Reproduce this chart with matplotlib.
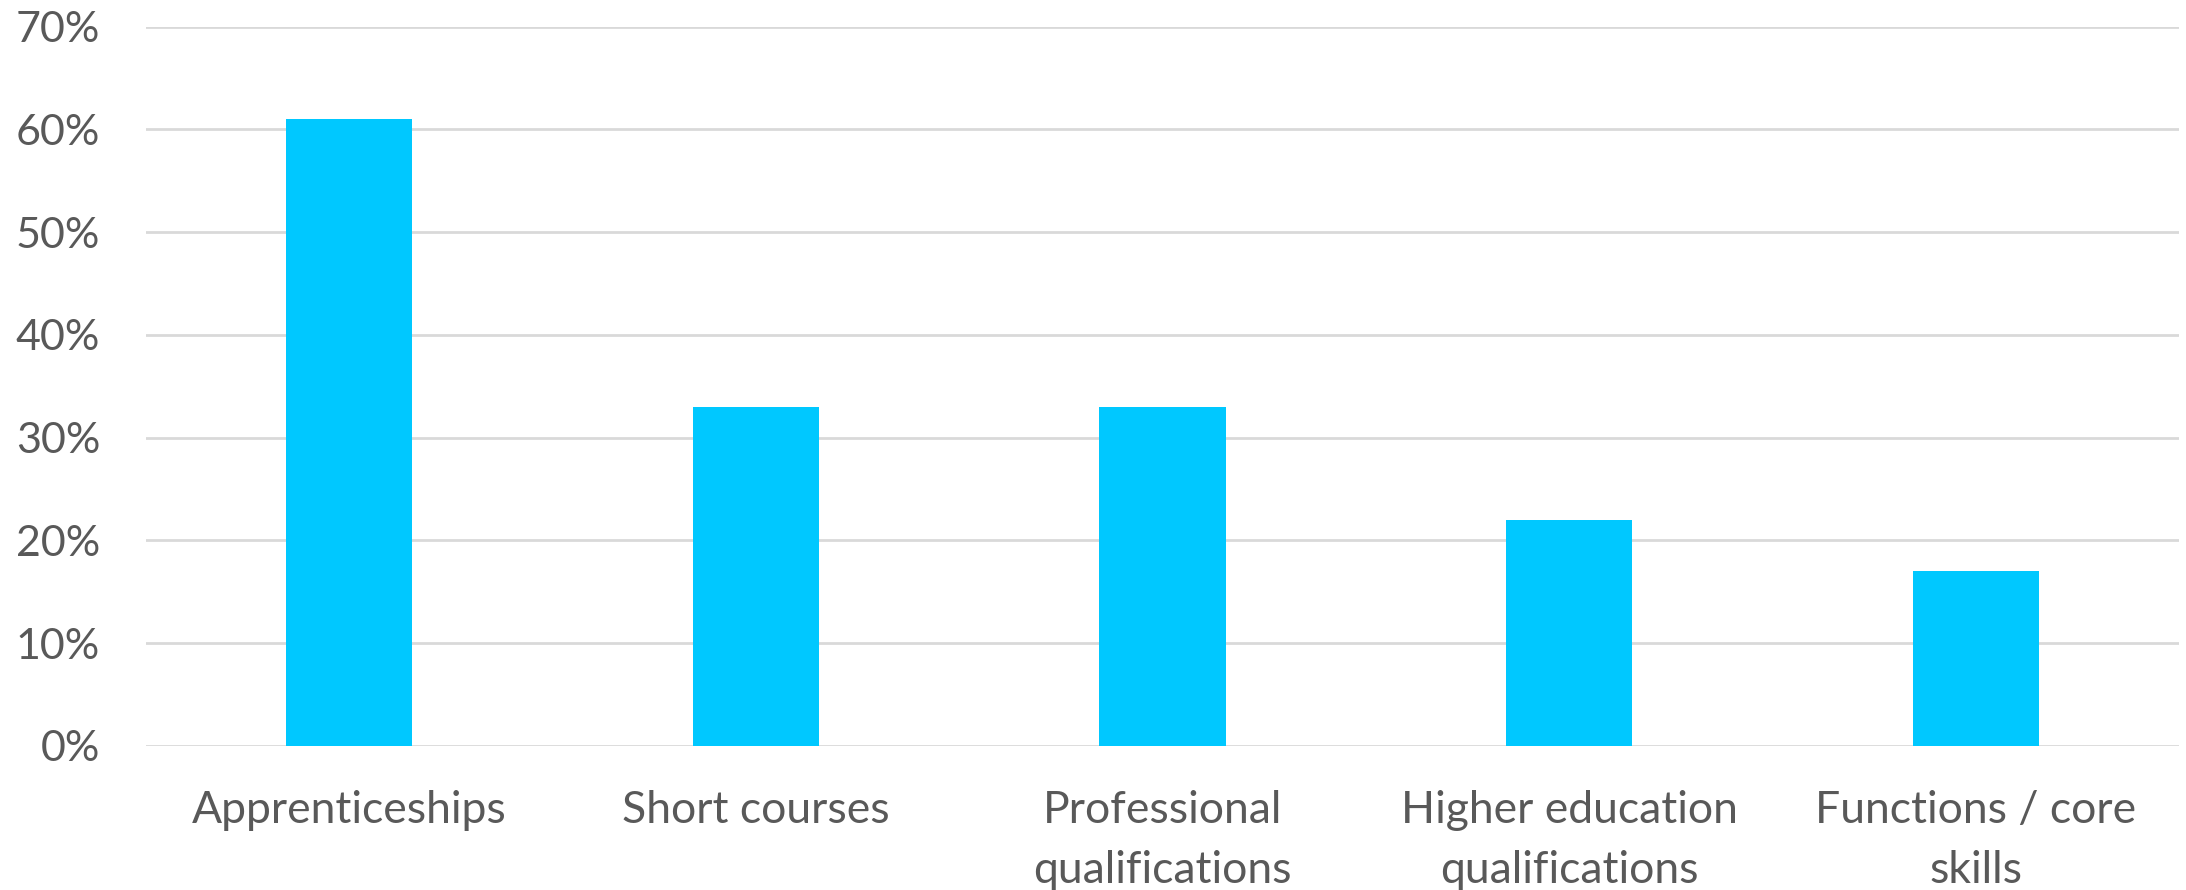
import matplotlib
matplotlib.use("Agg")
import matplotlib.pyplot as plt
from matplotlib.ticker import FuncFormatter

categories = ["Apprenticeships", "Short courses", "Professional\nqualifications",
              "Higher education\nqualifications", "Functions / core\nskills"]
values = [61, 33, 33, 22, 17]
yticks = [0, 10, 20, 30, 40, 50, 60, 70]

plt.rcParams['font.family'] = ['Lato', 'DejaVu Sans']

fig = plt.figure(figsize=(21.86, 8.90), dpi=100)
ax = fig.add_axes([0.0668, 0.1618, 0.93, 0.8084])

x = list(range(len(categories)))
ax.bar(x, values, width=0.31, color="#00C8FF", zorder=3)

ax.set_xlim(-0.5, len(categories) - 0.5)
ax.set_ylim(0, 70)
ax.set_yticks(yticks)
ax.yaxis.set_major_formatter(FuncFormatter(lambda v, p: f"{int(v)}%"))
ax.set_xticks(x)
ax.set_xticklabels(categories, linespacing=1.55)

ax.grid(axis='y', color="#D9D9D9", linewidth=2, zorder=0)
ax.set_axisbelow(True)
for s in ax.spines.values():
    s.set_visible(False)

ax.tick_params(axis='y', length=0, pad=33, labelsize=31, labelcolor="#595959")
ax.tick_params(axis='x', length=0, pad=32, labelsize=32, labelcolor="#595959")

fig.savefig("out.png", dpi=100, facecolor="white")
